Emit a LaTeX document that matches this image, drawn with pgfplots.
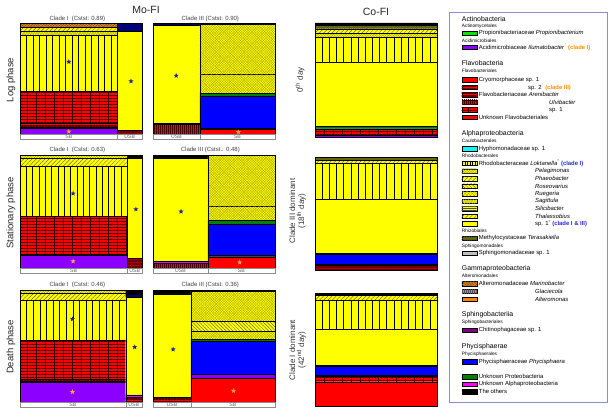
\documentclass[border=0pt]{standalone}
\usepackage{pgfplots}
\pgfplotsset{compat=1.18}
\usetikzlibrary{patterns.meta}
\usepackage{fontspec}
\setmainfont{Liberation Sans}

\definecolor{cyel}{RGB}{255,255,0}
\definecolor{cred}{RGB}{255,0,0}
\definecolor{cpur}{RGB}{140,0,255}
\definecolor{cblu}{RGB}{0,0,255}
\definecolor{cnavy}{RGB}{0,0,120}
\definecolor{cgrn}{RGB}{0,128,0}
\definecolor{clgrn}{RGB}{0,230,0}
\definecolor{cmag}{RGB}{255,0,255}
\definecolor{cora}{RGB}{255,130,0}
\definecolor{cmar}{RGB}{170,0,0}
\definecolor{ccyan}{RGB}{0,255,255}
\definecolor{colive}{RGB}{110,110,0}
\definecolor{cchit}{RGB}{128,0,128}
\definecolor{cgray}{RGB}{192,192,192}
\definecolor{cstar}{RGB}{255,165,50}
\definecolor{cbstar}{RGB}{30,30,170}
\definecolor{clegbox}{RGB}{140,140,210}
\definecolor{ctor}{RGB}{255,140,0}
\definecolor{ctbl}{RGB}{40,40,220}
\definecolor{chat}{RGB}{150,150,0}

\tikzset{
 base/.style={draw=black, line width=0.3pt},
 sy/.style={base, fill=cyel},
 sr/.style={base, fill=cred},
 sp/.style={base, fill=cpur},
 sb/.style={base, fill=cblu},
 sg/.style={base, fill=cgrn},
 sm/.style={base, fill=cmag},
 sk/.style={base, fill=black},
 sn/.style={base, fill=cnavy},
 smr/.style={base, fill=cmar},
 mst/.style={base, fill=cmar, postaction={pattern color=black!60!red, pattern={Lines[angle=0,distance=1.5pt,line width=0.35pt]}}},
 lokS/.style={base, fill=cyel, postaction={pattern color=black, pattern={Lines[angle=90,distance=2.5pt,line width=0.35pt]}}},
 yne/.style={base, fill=cyel, postaction={pattern color=black!75, pattern={Lines[angle=45,distance=3pt,line width=0.3pt]}}},
 ynw/.style={base, fill=cyel, postaction={pattern color=black!75, pattern={Lines[angle=-45,distance=2.5pt,line width=0.3pt]}}},
 ycr/.style={base, fill=cyel, postaction={pattern color=chat, pattern={Lines[angle=45,distance=1.8pt,line width=0.2pt]}}, postaction={pattern color=chat, pattern={Lines[angle=-45,distance=1.8pt,line width=0.2pt]}}},
 ycrc/.style={base, fill=cyel, postaction={pattern color=chat, pattern={Lines[angle=45,distance=2.6pt,line width=0.3pt]}}, postaction={pattern color=chat, pattern={Lines[angle=-45,distance=2.6pt,line width=0.3pt]}}},
 ybr/.style={base, fill=cyel, postaction={pattern color=black!70, pattern={Lines[angle=0,distance=2pt,line width=0.3pt]}}},
 rbr/.style={base, fill=cred, postaction={pattern color=black!75!red, pattern={Lines[angle=0,distance=3pt,line width=0.3pt]}}, postaction={pattern color=black!80!red, pattern={Lines[angle=90,distance=9pt,line width=0.4pt]}}},
 rst/.style={base, fill=cred, postaction={pattern color=black!70!red, pattern={Lines[angle=0,distance=1.5pt,line width=0.35pt]}}},
 rstl/.style={base, fill=cred, postaction={pattern color=black!50!red, pattern={Lines[angle=0,distance=2.5pt,line width=0.25pt]}}},
 rvt/.style={base, fill=cred, postaction={pattern color=black!70!red, pattern={Lines[angle=90,distance=2pt,line width=0.35pt]}}},
 obr/.style={base, fill=cora, postaction={pattern color=black!70, pattern={Lines[angle=45,distance=2pt,line width=0.3pt]}}, postaction={pattern color=black!70, pattern={Lines[angle=-45,distance=2pt,line width=0.3pt]}}},
 ovt/.style={base, fill=cora, postaction={pattern color=black!70, pattern={Lines[angle=90,distance=2pt,line width=0.3pt]}}},
 olv/.style={base, fill=colive, postaction={pattern color=black!70, pattern={Lines[angle=45,distance=1.6pt,line width=0.3pt]}}},
 frm/.style={draw=black, line width=0.7pt, fill=none},
 lab/.style={font=\fontsize{5.2}{6}\selectfont, text=black!60, inner sep=0pt},
 ttl/.style={font=\fontsize{6}{7}\selectfont, text=black!75, inner sep=0pt, anchor=south}
}

\pgfdeclareplotmark{fstar}{%
  \pgfpathmoveto{\pgfpointpolar{90}{\pgfplotmarksize}}%
  \pgfpathlineto{\pgfpointpolar{126}{0.42\pgfplotmarksize}}%
  \pgfpathlineto{\pgfpointpolar{162}{\pgfplotmarksize}}%
  \pgfpathlineto{\pgfpointpolar{198}{0.42\pgfplotmarksize}}%
  \pgfpathlineto{\pgfpointpolar{234}{\pgfplotmarksize}}%
  \pgfpathlineto{\pgfpointpolar{270}{0.42\pgfplotmarksize}}%
  \pgfpathlineto{\pgfpointpolar{306}{\pgfplotmarksize}}%
  \pgfpathlineto{\pgfpointpolar{342}{0.42\pgfplotmarksize}}%
  \pgfpathlineto{\pgfpointpolar{18}{\pgfplotmarksize}}%
  \pgfpathlineto{\pgfpointpolar{54}{0.42\pgfplotmarksize}}%
  \pgfpathclose
  \pgfusepathqfill}

\pgfplotsset{panel/.style={anchor=south west, scale only axis, width=122pt, xmin=0, xmax=1, ymax=1, hide axis, clip=false}}

\newcommand{\C}[5]{\addplot[#1] coordinates {(#2,#4) (#3,#4) (#3,#5) (#2,#5) (#2,#4)};}
% Loktanella cell: yellow with n vertical black lines
\newcommand{\LOK}[5]{\C{sy}{#1}{#2}{#3}{#4}%
  \pgfplotsinvokeforeach{1,...,#5}{%
    \pgfmathsetmacro\xlk{#1+##1*(#2-#1)/(#5+1)}%
    \edef\tmp{\noexpand\addplot[black, line width=0.55pt] coordinates {(\xlk,#3) (\xlk,#4)};}\tmp}}
\newcommand{\ST}[3]{\addplot[only marks, mark=fstar, mark size=2.7pt, color=#1] coordinates {(#2,#3)};}
\newcommand{\LB}[4]{\addplot[draw=black!45, fill=white, line width=0.3pt] coordinates {(#1,#3) (#2,#3) (#2,0) (#1,0) (#1,#3)};
  \node[lab] at (axis cs:{(#1+#2)/2},{#3/2}) {#4};}

\newcommand{\fhd}{\fontsize{6.9}{7}\selectfont}
\newcommand{\ford}{\fontsize{4.8}{5}\selectfont}
\newcommand{\fent}{\fontsize{5.9}{6}\selectfont}

\newcommand{\LH}[2]{\node[anchor=west, font=\fhd, inner sep=0pt] at (461.7,#1) {#2};}
\newcommand{\LO}[2]{\node[anchor=west, font=\ford, inner sep=0pt] at (461.7,#1) {#2};}
\newcommand{\LS}[3]{\draw[#2, line width=0.3pt] (461.7,#1-2.2) rectangle (476.7,#1+2.2); \node[anchor=west, font=\fent, inner sep=0pt] at (478.7,#1) {#3};}
\newcommand{\LG}[4]{\draw[#2, line width=0.3pt] (461.7,#1-2.2) rectangle (476.7,#1+2.2); \node[anchor=west, font=\fent, inner sep=0pt] at (#3,#1) {#4};}

\begin{document}
\begin{tikzpicture}
\path[use as bounding box] (0pt,0pt) rectangle (616pt,416pt);

% ---------------- Row 1 ----------------
\begin{axis}[panel, at={(20pt,276.5pt)}, height=116pt, ymin=-0.045]
\C{sp}{0}{0.8}{0}{0.054}
\C{sg}{0}{0.8}{0.054}{0.062}
\C{rst}{0}{0.8}{0.062}{0.10}
\C{rbr}{0}{0.8}{0.10}{0.388}
\LOK{0}{0.8}{0.388}{0.895}{14}
\C{ycr}{0}{0.8}{0.895}{0.934}
\C{yne}{0}{0.8}{0.934}{0.964}
\C{obr}{0}{0.8}{0.964}{1}
\C{mst}{0.8}{1}{0}{0.035}
\C{sy}{0.8}{1}{0.035}{0.934}
\C{sn}{0.8}{1}{0.934}{1}
\C{frm}{0}{1}{0}{1}
\LB{0}{0.8}{-0.045}{SB}
\LB{0.8}{1}{-0.045}{USB}
\ST{cbstar}{0.40}{0.655}
\ST{cstar}{0.40}{0.027}
\ST{cbstar}{0.91}{0.48}
\node[ttl] at (axis cs:0.47,1.015) {Clade I\ \ (Cstst: 0.89)};
\end{axis}

\begin{axis}[panel, at={(153pt,276.5pt)}, height=116pt, ymin=-0.045]
\C{rvt}{0}{0.385}{0}{0.09}
\C{sm}{0}{0.385}{0.09}{0.105}
\C{sy}{0}{0.385}{0.105}{0.985}
\C{sn}{0}{0.385}{0.985}{1}
\C{sr}{0.385}{1}{0}{0.045}
\C{smr}{0.385}{1}{0.045}{0.054}
\C{sb}{0.385}{1}{0.054}{0.345}
\C{sg}{0.385}{1}{0.345}{0.375}
\C{ycr}{0.385}{1}{0.375}{0.54}
\C{ycr}{0.385}{1}{0.54}{0.99}
\C{sn}{0.385}{1}{0.99}{1}
\addplot[black!80!olive, densely dashed, line width=0.6pt] coordinates {(0.385,0.54) (1,0.54)};
\C{frm}{0}{1}{0}{1}
\LB{0}{0.385}{-0.045}{USB}
\LB{0.385}{1}{-0.045}{SB}
\ST{cbstar}{0.19}{0.53}
\ST{cstar}{0.70}{0.022}
\node[ttl] at (axis cs:0.47,1.015) {Clade III (Cstst: 0.90)};
\end{axis}

\begin{axis}[panel, at={(315pt,279pt)}, height=114pt, ymin=0]
\C{sp}{0}{1}{0}{0.015}
\C{rbr}{0}{1}{0.015}{0.065}
\C{sk}{0}{1}{0.065}{0.073}
\C{sg}{0}{1}{0.073}{0.094}
\C{sy}{0}{1}{0.094}{0.658}
\LOK{0}{1}{0.658}{0.877}{16}
\C{ycr}{0}{1}{0.877}{0.91}
\C{yne}{0}{1}{0.91}{0.95}
\C{olv}{0}{1}{0.95}{0.98}
\C{sk}{0}{1}{0.98}{1}
\C{frm}{0}{1}{0}{1}
\end{axis}

% ---------------- Row 2 ----------------
\begin{axis}[panel, at={(20pt,143pt)}, height=118pt, ymin=-0.044]
\C{sp}{0}{0.88}{0}{0.118}
\C{sk}{0}{0.88}{0.118}{0.124}
\C{rbr}{0}{0.88}{0.124}{0.456}
\LOK{0}{0.88}{0.456}{0.9}{16}
\C{yne}{0}{0.88}{0.9}{0.97}
\C{ycr}{0}{0.88}{0.97}{1}
\C{mst}{0.88}{1}{0}{0.088}
\C{sy}{0.88}{1}{0.088}{0.97}
\C{sk}{0.88}{1}{0.97}{1}
\C{frm}{0}{1}{0}{1}
\LB{0}{0.88}{-0.044}{SB}
\LB{0.88}{1}{-0.044}{USB}
\ST{cbstar}{0.435}{0.66}
\ST{cstar}{0.435}{0.06}
\ST{cbstar}{0.95}{0.52}
\node[ttl] at (axis cs:0.47,1.015) {Clade I\ \ (Cstst: 0.63)};
\end{axis}

\begin{axis}[panel, at={(153pt,143pt)}, height=118pt, ymin=-0.044]
\C{rvt}{0}{0.45}{0}{0.044}
\C{sm}{0}{0.45}{0.044}{0.06}
\C{sy}{0}{0.45}{0.06}{0.975}
\C{sk}{0}{0.45}{0.975}{1}
\C{sr}{0.45}{1}{0}{0.1}
\C{sk}{0.45}{1}{0.1}{0.11}
\C{sb}{0.45}{1}{0.11}{0.39}
\C{sg}{0.45}{1}{0.39}{0.42}
\C{ycr}{0.45}{1}{0.42}{0.55}
\C{ycr}{0.45}{1}{0.55}{1}
\addplot[black!80!olive, densely dashed, line width=0.6pt] coordinates {(0.45,0.55) (1,0.55)};
\C{frm}{0}{1}{0}{1}
\LB{0}{0.45}{-0.044}{USB}
\LB{0.45}{1}{-0.044}{SB}
\ST{cbstar}{0.23}{0.5}
\ST{cstar}{0.71}{0.05}
\node[ttl] at (axis cs:0.47,1.015) {Clade III (Cstst.: 0.48)};
\end{axis}

\begin{axis}[panel, at={(315pt,146pt)}, height=113pt, ymin=0]
\C{mst}{0}{1}{0}{0.044}
\C{sp}{0}{1}{0.044}{0.053}
\C{sb}{0}{1}{0.053}{0.14}
\C{sk}{0}{1}{0.14}{0.145}
\C{sy}{0}{1}{0.145}{0.625}
\LOK{0}{1}{0.625}{0.947}{16}
\C{yne}{0}{1}{0.947}{0.975}
\C{olv}{0}{1}{0.975}{1}
\C{frm}{0}{1}{0}{1}
\end{axis}

% ---------------- Row 3 ----------------
\begin{axis}[panel, at={(20pt,9pt)}, height=117pt, ymin=-0.0446]
\C{sp}{0}{0.866}{0}{0.175}
\C{sk}{0}{0.866}{0.175}{0.19}
\C{rst}{0}{0.866}{0.19}{0.2}
\C{rbr}{0}{0.866}{0.2}{0.55}
\C{sk}{0}{0.866}{0.55}{0.555}
\LOK{0}{0.866}{0.555}{0.91}{15}
\C{yne}{0}{0.866}{0.91}{0.976}
\C{ycr}{0}{0.866}{0.976}{1}
\C{rst}{0.866}{1}{0}{0.04}
\C{sm}{0.866}{1}{0.04}{0.065}
\C{sy}{0.866}{1}{0.065}{0.935}
\C{sn}{0.866}{1}{0.935}{0.965}
\C{sk}{0.866}{1}{0.965}{1}
\C{frm}{0}{1}{0}{1}
\LB{0}{0.866}{-0.0446}{SB}
\LB{0.866}{1}{-0.0446}{USB}
\ST{cbstar}{0.43}{0.74}
\ST{cstar}{0.43}{0.09}
\ST{cbstar}{0.94}{0.49}
\node[ttl] at (axis cs:0.47,1.015) {Clade I\ \ (Cstst: 0.46)};
\end{axis}

\begin{axis}[panel, at={(153pt,9pt)}, height=117pt, ymin=-0.0446]
\C{rst}{0}{0.31}{0}{0.04}
\C{sk}{0}{0.31}{0.04}{0.046}
\C{sy}{0}{0.31}{0.046}{0.965}
\C{sk}{0}{0.31}{0.965}{1}
\C{sr}{0.31}{1}{0}{0.215}
\C{sp}{0.31}{1}{0.215}{0.245}
\C{sb}{0.31}{1}{0.245}{0.54}
\C{sg}{0.31}{1}{0.54}{0.56}
\C{ycr}{0.31}{1}{0.56}{0.63}
\C{ynw}{0.31}{1}{0.63}{0.72}
\C{ycr}{0.31}{1}{0.72}{0.99}
\C{sk}{0.31}{1}{0.99}{1}
\C{frm}{0}{1}{0}{1}
\LB{0}{0.31}{-0.0446}{USB}
\LB{0.31}{1}{-0.0446}{SB}
\ST{cbstar}{0.165}{0.47}
\ST{cstar}{0.66}{0.1}
\node[ttl] at (axis cs:0.47,1.015) {Clade III (Cstst: 0.36)};
\end{axis}

\begin{axis}[panel, at={(315pt,10pt)}, height=113pt, ymin=0]
\C{sr}{0}{1}{0}{0.215}
\C{rbr}{0}{1}{0.215}{0.265}
\C{sk}{0}{1}{0.265}{0.27}
\C{sb}{0}{1}{0.27}{0.35}
\C{sk}{0}{1}{0.35}{0.36}
\C{sy}{0}{1}{0.36}{0.68}
\LOK{0}{1}{0.68}{0.94}{16}
\C{yne}{0}{1}{0.94}{0.98}
\C{sk}{0}{1}{0.98}{1}
\C{frm}{0}{1}{0}{1}
\end{axis}

% ---------------- Texts and legend ----------------
\begin{scope}[x=1pt, y=-1pt, shift={(0pt,416pt)}]
\node[font=\fontsize{10.5}{11}\selectfont, text=black!85] at (146,10) {Mo-FI};
\node[font=\fontsize{10.5}{11}\selectfont, text=black!85] at (376,12) {Co-FI};
\node[rotate=90, font=\fontsize{9.5}{10}\selectfont, text=black!85] at (11,80) {Log phase};
\node[rotate=90, font=\fontsize{9.5}{10}\selectfont, text=black!85] at (11,213) {Stationary phase};
\node[rotate=90, font=\fontsize{9.5}{10}\selectfont, text=black!85] at (11,347) {Death phase};
\node[rotate=90, font=\fontsize{8}{9}\selectfont, text=black!80] at (300,80) {0\textsuperscript{th} day};
\node[rotate=90, align=center, font=\fontsize{8}{9}\selectfont, text=black!80] at (297.5,211) {Clade III dominant\\(18\textsuperscript{th} day)};
\node[rotate=90, align=center, font=\fontsize{8}{9}\selectfont, text=black!80] at (297.5,350) {Clade I dominant\\(42\textsuperscript{nd} day)};

\draw[clegbox, line width=0.8pt] (449,12) rectangle (607,402);

\LH{19.5}{Actinobacteria}
\LO{26.3}{Actinomycetales}
\LS{33.3}{base, fill=clgrn}{Propionibacteriaceae \textit{Propionibacterium}}
\LO{40.3}{Acidimicrobiales}
\LS{47.3}{sp}{Acidimicrobiaceae \textit{Ilumatobacter}\textcolor{ctor}{\textsuperscript{*} \textbf{(clade I)}}}

\LH{63.5}{Flavobacteria}
\LO{71}{Flavobacteriales}
\LS{79.5}{sr}{Cryomorphaceae sp. 1}
\LG{87}{rstl}{528}{sp. 2\textcolor{ctor}{\textsuperscript{*} \textbf{(clade III)}}}
\LS{94.7}{rst}{Flavobacteriaceae \textit{Arenibacter}}
\LG{102.2}{rvt}{549}{\textit{Ulvibacter}}
\LG{109.8}{rbr}{549}{sp. 1}
\LS{117.4}{sr}{Unknown Flavobacteriales}

\LH{134}{Alphaproteobacteria}
\LO{141}{Caulobacterales}
\LS{148.7}{base, fill=ccyan}{Hyphomonadaceae sp. 1}
\LO{156}{Rhodobacterales}
\LS{163.3}{lokS}{Rhodobacteraceae \textit{Loktanella}\textcolor{ctbl}{\textsuperscript{*} \textbf{(clade I)}}}
\LG{171}{ycr}{535}{\textit{Pelagimonas}}
\LG{178.6}{yne}{535}{\textit{Phaeobacter}}
\LG{186.1}{ynw}{535}{\textit{Roseovarius}}
\LG{193.7}{ycrc}{535}{\textit{Ruegeria}}
\LG{201.2}{ycr}{535}{\textit{Sagittula}}
\LG{208.7}{ybr}{535}{\textit{Silicibacter}}
\LG{216.2}{yne}{535}{\textit{Thalassobius}}
\LG{223.7}{sy}{535}{sp. 1\textcolor{ctbl}{\textsuperscript{*} \textbf{(clade I \& III)}}}
\LO{231}{Rhizobiales}
\LS{238.4}{olv}{Methylocystaceae \textit{Terasakiella}}
\LO{245.8}{Sphingomonadales}
\LS{253.2}{base, fill=cgray}{Sphingomonadaceae sp. 1}

\LH{268.3}{Gammaproteobacteria}
\LO{275.8}{Alteromonadales}
\LS{283.6}{obr}{Alteromonadaceae \textit{Marinobacter}}
\LG{291.4}{ovt}{535}{\textit{Glaciecola}}
\LG{299.2}{base, fill=cora}{535}{\textit{Alteromonas}}

\LH{315}{Sphingobacteriia}
\LO{322.4}{Sphingobacteriales}
\LS{330.2}{base, fill=cchit}{Chitinophagaceae sp. 1}

\LH{346.7}{Phycisphaerae}
\LO{354}{Phycisphaerales}
\LS{361.7}{sb}{Phycisphaeraceae \textit{Phycisphaera}}

\LS{376.7}{sg}{Unknown Proteobacteria}
\LS{384.2}{sm}{Unknown Alphaproteobacteria}
\LS{391.7}{sk}{The others}
\end{scope}
\end{tikzpicture}
\end{document}
